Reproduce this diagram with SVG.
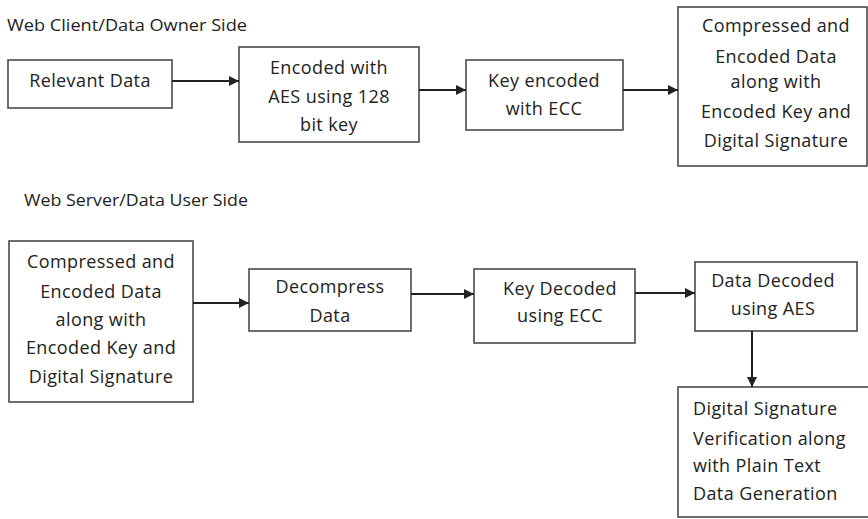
<svg xmlns="http://www.w3.org/2000/svg" width="868" height="519" viewBox="0 0 868 519">
<style>
  .box{fill:#fff;stroke:#4a4a4a;stroke-width:1.6}
  .t{font-family:"Open Sans","Noto Sans",sans-serif;font-size:18px;letter-spacing:0.4px;fill:#222;text-anchor:middle}
  .tl{font-family:"Open Sans","Noto Sans",sans-serif;font-size:18px;letter-spacing:0.4px;fill:#222}
  .h{font-family:"Open Sans","Noto Sans",sans-serif;font-size:17px;fill:#222}
  .c{stroke:#222;stroke-width:2;fill:none;marker-end:url(#ah)}
</style>
<defs>
  <marker id="ah" viewBox="0 0 10 10" refX="10" refY="5" markerWidth="5" markerHeight="5" markerUnits="strokeWidth" orient="auto">
    <path d="M0,0 L10,5 L0,10 z" fill="#222"/>
  </marker>
</defs>
<rect width="868" height="519" fill="#fff"/>
<text class="h" x="7" y="31" textLength="240" lengthAdjust="spacingAndGlyphs">Web Client/Data Owner Side</text>
<text class="h" x="24" y="206" textLength="224" lengthAdjust="spacingAndGlyphs">Web Server/Data User Side</text>

<g id="n1"><rect class="box" x="8" y="60" width="164" height="48"/>
<text class="t" x="90" y="87">Relevant Data</text></g>
<g id="n2"><rect class="box" x="239" y="47" width="180" height="95"/>
<text class="t" x="329" y="74">Encoded with</text><text class="t" x="329" y="103">AES using 128</text><text class="t" x="329" y="131">bit key</text></g>
<g id="n3"><rect class="box" x="466" y="60" width="157" height="70"/>
<text class="t" x="544" y="87">Key encoded</text><text class="t" x="544" y="115">with ECC</text></g>
<g id="n4"><rect class="box" x="678" y="7" width="189" height="159"/>
<text class="t" x="776" y="32">Compressed and</text><text class="t" x="776" y="63">Encoded Data</text><text class="t" x="776" y="88">along with</text><text class="t" x="776" y="118">Encoded Key and</text><text class="t" x="776" y="147">Digital Signature</text></g>

<g id="n5"><rect class="box" x="9" y="241" width="184" height="161"/>
<text class="t" x="101" y="268">Compressed and</text><text class="t" x="101" y="298">Encoded Data</text><text class="t" x="101" y="326">along with</text><text class="t" x="101" y="354">Encoded Key and</text><text class="t" x="101" y="383">Digital Signature</text></g>
<g id="n6"><rect class="box" x="249" y="269" width="162" height="62"/>
<text class="t" x="330" y="293">Decompress</text><text class="t" x="330" y="322">Data</text></g>
<g id="n7"><rect class="box" x="474" y="269" width="161" height="74"/>
<text class="t" x="560" y="295">Key Decoded</text><text class="t" x="560" y="322">using ECC</text></g>
<g id="n8"><rect class="box" x="695" y="262" width="162" height="69"/>
<text class="t" x="773" y="287">Data Decoded</text><text class="t" x="773" y="315">using AES</text></g>
<g id="n9"><rect class="box" x="678" y="387" width="192" height="130"/>
<text class="tl" x="693" y="415">Digital Signature</text><text class="tl" x="693" y="445">Verification along</text><text class="tl" x="693" y="472">with Plain Text</text><text class="tl" x="693" y="500">Data Generation</text></g>

<g id="connectors">
  <line class="c" x1="172" y1="81" x2="239" y2="81"/>
  <line class="c" x1="419" y1="90" x2="466" y2="90"/>
  <line class="c" x1="623" y1="90" x2="678" y2="90"/>
  <line class="c" x1="193" y1="303" x2="249" y2="303"/>
  <line class="c" x1="411" y1="294" x2="474" y2="294"/>
  <line class="c" x1="635" y1="293" x2="695" y2="293"/>
  <line class="c" x1="752" y1="331" x2="752" y2="387"/>
</g>
</svg>
